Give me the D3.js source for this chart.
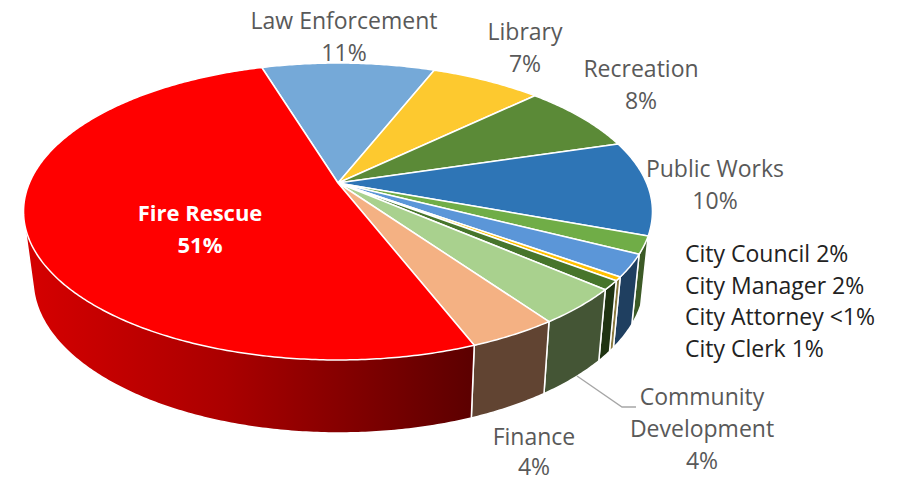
<!DOCTYPE html>
<html>
<head>
<meta charset="utf-8">
<title>Budget by department</title>
<style>
html, body { margin: 0; padding: 0; background: #fff; }
svg { display: block; }
text { font-family: "Open Sans", "Noto Sans", sans-serif; font-size: 23px; fill: #595959; text-anchor: middle; }
.inside { fill: #fff; font-weight: 700; font-size: 22px; }
.city { fill: #222; text-anchor: start; }
</style>
<script src="https://cdnjs.cloudflare.com/ajax/libs/d3/7.8.5/d3.min.js"></script>
</head>
<body>
<svg width="898" height="477"></svg>
<script>
// clockwise from the top, shares
var departments = ["Law Enforcement", "Library", "Recreation", "Public Works", "City Council", "City Manager", "City Attorney", "City Clerk", "Community Development", "Finance", "Fire Rescue"];
var shares = [10.7, 6.85, 7.5, 10.25, 1.9, 2.4, 0.4, 1.0, 3.9, 3.87, 51.13];
var topColors = ["#75a9d8", "#fdc92f", "#5b8a37", "#2e75b6", "#70ad47", "#5b96d8", "#ffc000", "#47752b", "#a9d18e", "#f4b183", "#ff0000"];
var wallColors = ["#46658a", "#977a1c", "#365221", "#1c466d", "#3c5a26", "#1f3f60", "#8a7a40", "#1f3312", "#445535", "#614432", "url(#fireWall)"];

var svg = d3.select("svg");
var startDeg = -17;

var pie = d3.pie().sort(null)
  .startAngle(startDeg * Math.PI / 180)
  .endAngle((startDeg + 360) * Math.PI / 180);
var slices = pie(shares);

// perspective view of the disc: far side shrinks, near side grows
var topRim = { cx: 338, cy: 183, rx: 308.6, ry: 143, p: 0.192 };
var bottomRim = { cx: 339, cy: 251, rx: 300.4, ry: 147.4, p: 0.19 };

function project(rim, a) {
  var u = Math.sin(a), v = Math.cos(a), w = 1 + rim.p * v;
  return [rim.cx + rim.rx * u / w, rim.cy - rim.ry * v / w];
}

function rimPoints(rim, a0, a1) {
  var n = Math.max(2, Math.ceil((a1 - a0) / 0.01));
  return d3.range(n + 1).map(function(i) {
    return project(rim, a0 + (a1 - a0) * i / n);
  });
}

var line = d3.line();

var defs = svg.append("defs");
var grad = defs.append("linearGradient")
  .attr("id", "fireWall")
  .attr("gradientUnits", "userSpaceOnUse")
  .attr("x1", 25).attr("x2", 472).attr("y1", 0).attr("y2", 0);
grad.append("stop").attr("offset", 0).attr("stop-color", "#d60000");
grad.append("stop").attr("offset", 0.45).attr("stop-color", "#aa0000");
grad.append("stop").attr("offset", 1).attr("stop-color", "#5c0000");

// side walls, only the ones facing the viewer
var walls = slices.map(function(d, i) { d.i = i; return d; })
  .filter(function(d) { return d.startAngle > Math.PI / 2; });

// hull so the wall reaches the tangent between the two rims; top face hides the rest
svg.append("g").selectAll("path")
  .data(walls)
  .enter()
  .append("path")
  .attr("d", function(d) {
    var a = rimPoints(topRim, d.startAngle, d.endAngle);
    var b = rimPoints(bottomRim, d.startAngle, d.endAngle);
    return line(d3.polygonHull(a.concat(b))) + "Z";
  })
  .attr("fill", function(d) { return wallColors[d.i]; })
  .attr("stroke", "#fff")
  .attr("stroke-width", 1.5)
  .attr("stroke-linejoin", "round");

// top face
svg.append("g").selectAll("path")
  .data(slices)
  .enter()
  .append("path")
  .attr("d", function(d) {
    return line([[topRim.cx, topRim.cy]].concat(rimPoints(topRim, d.startAngle, d.endAngle))) + "Z";
  })
  .attr("fill", function(d, i) { return topColors[i]; })
  .attr("stroke", "#fff")
  .attr("stroke-width", 1.5)
  .attr("stroke-linejoin", "round");

// leader for Community Development
svg.append("path")
  .attr("d", line([[577, 376], [622, 407], [636, 407]]))
  .attr("fill", "none")
  .attr("stroke", "#a6a6a6")
  .attr("stroke-width", 1.3);

var outerLabels = [
  { x: 344, y: 29, lines: ["Law Enforcement", "11%"] },
  { x: 525, y: 40, lines: ["Library", "7%"] },
  { x: 641, y: 77, lines: ["Recreation", "8%"] },
  { x: 715, y: 177, lines: ["Public Works", "10%"] },
  { x: 702, y: 405, lines: ["Community", "Development", "4%"] },
  { x: 534, y: 445, lines: ["Finance", "4%"] }
];

outerLabels.forEach(function(l) {
  var t = svg.append("text").attr("x", l.x).attr("y", l.y);
  l.lines.forEach(function(s, i) {
    t.append("tspan").attr("x", l.x).attr("dy", i ? (l.x === 534 ? 30 : 32) : 0).text(s);
  });
});

var fire = svg.append("text").attr("class", "inside").attr("x", 200).attr("y", 221);
fire.append("tspan").attr("x", 200).text("Fire Rescue");
fire.append("tspan").attr("x", 200).attr("dy", 32).text("51%");

var cityLabels = ["City Council 2%", "City Manager 2%", "City Attorney <1%", "City Clerk 1%"];
svg.append("g").selectAll("text")
  .data(cityLabels)
  .enter()
  .append("text")
  .attr("class", "city")
  .attr("x", 685)
  .attr("y", function(d, i) { return 262 + i * 31.7; })
  .text(function(d) { return d; });
</script>
</body>
</html>
